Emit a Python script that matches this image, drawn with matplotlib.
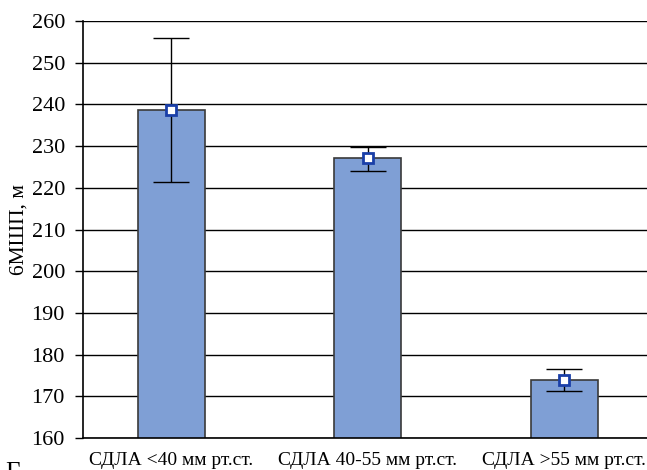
import matplotlib.pyplot as plt
import numpy as np

categories = ["СДЛА <40 мм рт.ст.", "СДЛА 40-55 мм рт.ст.", "СДЛА >55 мм рт.ст."]
means = [238.6, 227.1, 173.8]
err_low = [17.1, 3.1, 2.6]
err_high = [17.4, 2.6, 2.7]
yticks = [160, 170, 180, 190, 200, 210, 220, 230, 240, 250, 260]

plt.rcParams['font.family'] = ['Liberation Serif', 'DejaVu Serif']

fig = plt.figure(figsize=(6.47, 4.70), dpi=100)
ax = fig.add_axes([83 / 647, 32 / 470, 1 - 83 / 647, (438 - 21) / 470])

x = np.arange(len(categories))
ax.set_axisbelow(True)
ax.grid(axis='y', color='black', lw=1.0)
ax.bar(x, means, width=0.34, color='#7f9fd5', edgecolor='#3a3a3a', lw=1.2, zorder=2)
ax.errorbar(x, means, yerr=[err_low, err_high], fmt='none', ecolor='black',
            elinewidth=1.0, capsize=13, capthick=1.0, zorder=3)
ax.plot(x, means, ls='none', marker='s', ms=6.5, mfc='white', mec='#1a3fa8', mew=2, zorder=4)

ax.set_ylim(160, 260)
ax.set_xlim(-0.448, 2.42)
ax.set_yticks(yticks)
ax.set_xticks(x)
ax.set_xticklabels(categories, fontsize=14)
ax.tick_params(axis='y', labelsize=16, length=6, width=1, direction='out', pad=7)
ax.tick_params(axis='x', length=0, pad=10)
ax.set_ylabel("6МШП, м", fontsize=15.5, labelpad=2)

for side in ['top', 'right']:
    ax.spines[side].set_visible(False)
ax.spines['left'].set_linewidth(1.2)
ax.spines['bottom'].set_linewidth(1.2)

# partially cut letter at the lower left corner, as in the source
fig.text(0.008, -0.03, "Г", fontsize=18, ha='left', va='bottom')

fig.savefig("out.png", dpi=100)
